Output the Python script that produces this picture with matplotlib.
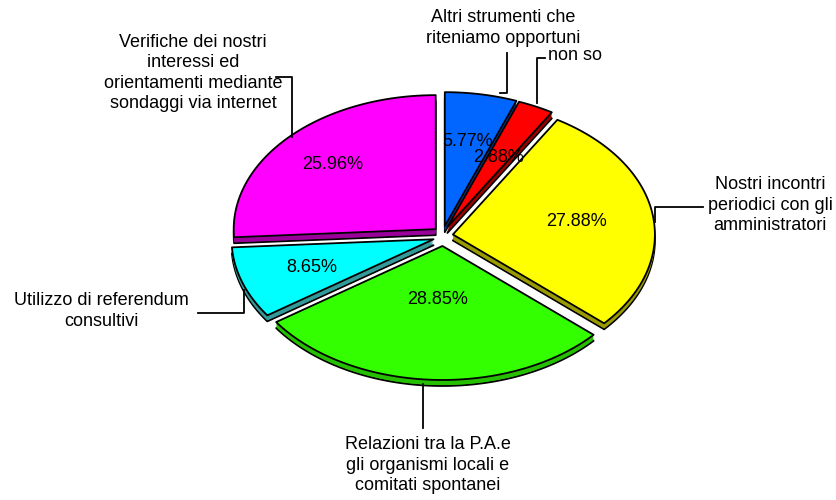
import numpy as np
import matplotlib.pyplot as plt
from matplotlib.patches import Polygon

# survey answers, clockwise from 12 o'clock
categories = [
    "Altri strumenti che\nriteniamo opportuni",
    "non so",
    "Nostri incontri\nperiodici con gli\namministratori",
    "Relazioni tra la P.A.e\ngli organismi locali e\ncomitati spontanei",
    "Utilizzo di referendum\nconsultivi",
    "Verifiche dei nostri\ninteressi ed\norientamenti mediante\nsondaggi via internet",
]
percentages = [5.77, 2.88, 27.88, 28.85, 8.65, 25.96]

top_colors = ["#0066ff", "#ff0000", "#ffff00", "#33ff00", "#00ffff", "#ff00ff"]
side_colors = ["#003d99", "#990000", "#999900", "#26bf00", "#339999", "#990099"]

plt.rcParams['font.family'] = ['Liberation Sans', 'DejaVu Sans']

fig = plt.figure(figsize=(8.37, 5), dpi=100)
ax = fig.add_axes([0, 0, 1, 1])
ax.set_xlim(0, 837)
ax.set_ylim(500, 0)
ax.axis('off')

cx, cy = 443, 236
rx, ry = 202, 134
depth = 6
explode = 10
label_frac = [0.64, 0.58, 0.62, 0.40, 0.64, 0.70]
fs = 13


def wedge_points(t1, t2, ox, oy):
    th = np.radians(np.linspace(t1, t2, 120))
    xs = cx + ox + rx * np.cos(th)
    ys = cy + oy - ry * np.sin(th)
    return np.column_stack([np.r_[cx + ox, xs], np.r_[cy + oy, ys]])


fracs = np.array(percentages) / np.sum(percentages)
ends = 90 - 360 * np.cumsum(fracs)
starts = np.r_[90, ends[:-1]]

slices = []
for i in range(len(percentages)):
    mid = np.radians((starts[i] + ends[i]) / 2)
    ox, oy = explode * np.cos(mid), -explode * np.sin(mid)
    slices.append((i, mid, ox, oy))

# back slices first so the front ones overlap them
order = sorted(slices, key=lambda s: -np.sin(s[1]))

for i, mid, ox, oy in order:
    pts = wedge_points(starts[i], ends[i], ox, oy)
    ax.add_patch(Polygon(pts + [0, depth], closed=True, facecolor=side_colors[i],
                         edgecolor='black', linewidth=1.3, joinstyle='round'))
    for k in range(depth - 1, 0, -1):
        ax.add_patch(Polygon(pts + [0, k], closed=True, facecolor=side_colors[i],
                             edgecolor='none'))
    ax.add_patch(Polygon(pts, closed=True, facecolor=top_colors[i],
                         edgecolor='black', linewidth=1.3, joinstyle='round'))

for i, mid, ox, oy in slices:
    f = label_frac[i]
    lx = cx + ox + f * rx * np.cos(mid)
    ly = cy + oy - f * ry * np.sin(mid)
    ax.text(lx, ly, f"{percentages[i]:.2f}%", fontsize=fs, ha='center', va='center')

# leader lines and category names
line_kw = dict(color='black', linewidth=1.3)
txt_kw = dict(fontsize=fs, va='center', linespacing=1.25)

ax.plot([500, 507, 507], [93, 93, 53], **line_kw)
ax.text(503, 28, categories[0], ha='center', **txt_kw)

ax.plot([537, 537, 545], [103, 58, 58], **line_kw)
ax.text(548, 56, categories[1], ha='left', **txt_kw)

ax.plot([655, 655, 703], [222, 207, 207], **line_kw)
ax.text(770, 205, categories[2], ha='center', **txt_kw)

ax.plot([423, 423], [384, 428], **line_kw)
ax.text(428, 465, categories[3], ha='center', **txt_kw)

ax.plot([244, 244, 198], [290, 313, 313], **line_kw)
ax.text(101, 311, categories[4], ha='center', **txt_kw)

ax.plot([292, 292, 276], [137, 77, 77], **line_kw)
ax.text(193, 73, categories[5], ha='center', **txt_kw)

fig.savefig('out.png', dpi=100)
